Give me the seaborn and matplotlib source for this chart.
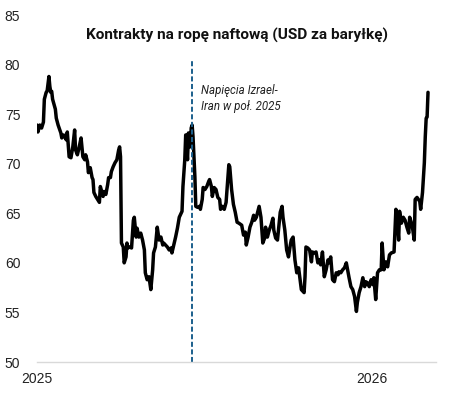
import pandas as pd
import numpy as np
import matplotlib
matplotlib.use("Agg")
import matplotlib.pyplot as plt
import seaborn as sns

# ---- data (days since 2025-01-01, price in USD/bbl) ----
days = [0, 1, 3, 5, 7, 8, 10, 11, 13, 14, 15, 16, 17, 20, 21, 23, 26, 27, 29, 32,
        33, 35, 37, 39, 41, 42, 44, 46, 48, 50, 52, 53, 55, 56, 58, 60, 61, 62, 64, 66,
        68, 69, 72, 73, 75, 77, 78, 80, 81, 83, 85, 87, 89, 90, 91, 92, 94, 95, 97, 98,
        99, 101, 103, 105, 106, 108, 109, 111, 113, 115, 117, 118, 120, 122, 124, 126, 127, 129, 131, 133,
        135, 137, 138, 140, 142, 144, 146, 147, 149, 151, 153, 155, 158, 159, 161, 162, 164, 165, 167, 168,
        169, 170, 172, 173, 175, 177, 178, 180, 181, 183, 185, 187, 188, 190, 191, 193, 195, 197, 199, 200,
        202, 204, 206, 207, 209, 210, 212, 214, 216, 218, 220, 223, 225, 227, 228, 230, 232, 234, 236, 237,
        239, 242, 244, 246, 248, 249, 251, 253, 255, 257, 258, 260, 262, 265, 267, 268, 270, 272, 274, 276,
        277, 279, 281, 283, 285, 287, 288, 291, 292, 293, 295, 297, 299, 300, 302, 304, 306, 308, 309, 311,
        313, 315, 317, 318, 320, 322, 324, 326, 328, 329, 331, 333, 335, 337, 339, 340, 342, 344, 346, 348,
        349, 351, 353, 355, 357, 358, 360, 362, 364, 366, 367, 369, 371, 373, 375, 376, 378, 380, 382, 384,
        386, 389, 391, 393, 394, 395, 397, 399, 401, 403, 405, 406, 408, 409, 411, 412, 414, 417, 418, 420,
        422, 423, 424, 425, 426]
prices = [73.9, 73.2, 73.9, 73.6, 74.2, 76.5, 77.2, 77.3, 78.8, 77.8, 77.2, 77.3, 76.5, 75.5, 74.6, 73.9, 73.1, 72.6, 72.9, 72.4,
          73.2, 70.7, 70.6, 71.7, 73.4, 71.4, 70.9, 71.7, 72.6, 70.7, 70.4, 70.9, 70.2, 69.1, 69.6, 68.6, 68.4, 67.1, 66.7, 66.4,
          66.1, 67.7, 66.7, 67.2, 66.9, 67.9, 68.6, 68.6, 69.2, 69.7, 70.1, 70.4, 71.4, 71.7, 70.7, 62.0, 61.6, 60.0, 60.6, 62.0,
          61.5, 61.6, 61.5, 64.3, 64.6, 62.6, 63.5, 62.6, 63.0, 62.3, 61.3, 59.0, 58.3, 58.6, 57.3, 59.3, 61.0, 61.6, 63.6, 62.3,
          62.6, 61.8, 62.0, 61.8, 61.6, 61.3, 61.5, 61.0, 61.8, 62.6, 63.5, 64.6, 65.2, 67.7, 70.4, 72.9, 70.4, 73.1, 71.7, 73.6,
          73.9, 72.7, 68.7, 65.7, 65.6, 65.7, 65.4, 66.4, 67.6, 67.4, 67.7, 68.2, 68.4, 67.7, 66.7, 67.6, 67.4, 66.6, 66.4, 65.4,
          65.7, 65.4, 66.1, 67.4, 69.9, 69.7, 67.4, 65.9, 65.1, 64.1, 64.0, 63.8, 62.8, 63.1, 61.8, 62.6, 63.6, 64.1, 64.8, 64.3,
          64.6, 65.7, 64.6, 62.0, 62.5, 63.6, 62.6, 63.3, 63.8, 64.5, 63.3, 62.5, 62.3, 65.1, 65.7, 64.6, 63.3, 61.3, 60.6, 61.8,
          62.3, 62.6, 60.3, 59.0, 59.5, 58.0, 57.3, 57.0, 58.6, 61.6, 61.5, 61.3, 60.1, 61.1, 61.0, 61.1, 60.0, 60.3, 59.8, 61.1,
          58.6, 59.3, 60.3, 60.0, 60.6, 58.3, 58.1, 59.0, 58.8, 59.1, 59.0, 59.3, 59.5, 60.0, 59.0, 58.5, 57.6, 57.3, 56.6, 55.1,
          56.0, 57.0, 57.6, 58.5, 57.6, 58.1, 58.0, 57.6, 58.3, 57.8, 58.5, 56.3, 59.0, 59.3, 59.3, 62.0, 59.3, 60.1, 59.6, 60.8,
          61.0, 61.1, 65.4, 63.6, 62.3, 65.2, 64.0, 64.6, 64.3, 63.6, 63.0, 64.6, 64.0, 63.6, 62.3, 66.4, 66.6, 66.2, 65.4, 67.1,
          70.1, 72.7, 74.6, 74.7, 77.2]

title = "Kontrakty na ropę naftową (USD za baryłkę)"
event_date = "2025-06-19"
event_label = "Napięcia Izrael-\nIran w poł. 2025"
y_ticks = [50, 55, 60, 65, 70, 75, 80, 85]
x_tick_dates = ["2025-01-01", "2026-01-01"]
x_tick_labels = ["2025", "2026"]

base = pd.Timestamp("2025-01-01")
df = pd.DataFrame({"date": base + pd.to_timedelta(days, unit="D"), "price": prices})

sns.set_theme(style="white")
plt.rcParams["font.family"] = ["Liberation Sans", "DejaVu Sans"]

fig = plt.figure(figsize=(4.51, 3.98), dpi=100)
ax = fig.add_axes([37 / 451, 1 - 362 / 398, (436 - 37) / 451, (362 - 15) / 398])

sns.lineplot(data=df, x="date", y="price", ax=ax, color="black", linewidth=2.5)

ax.axvline(pd.Timestamp(event_date), ymin=0, ymax=(362 - 60) / (362 - 15),
           color="#1b5f8c", linestyle=(0, (2.6, 1.3)), linewidth=1.4)
ax.text(pd.Timestamp(event_date) + pd.Timedelta(days=10), 78.0, event_label,
        fontsize=8.3, style="italic", color="#222222", va="top", ha="left",
        family=["Roboto", "DejaVu Sans"], linespacing=1.3)

ax.text(0.5, 0.942, title, transform=ax.transAxes, ha="center", va="center",
        fontsize=11.1, fontweight="bold", color="#111111", family=["Roboto", "DejaVu Sans"])

ax.set_ylim(50, 85)
ax.set_yticks(y_ticks)
ax.set_xlim(base, base + pd.Timedelta(days=434.7))
ax.set_xticks([pd.Timestamp(d) for d in x_tick_dates])
ax.set_xticklabels(x_tick_labels)
ax.set_xlabel("")
ax.set_ylabel("")

for s in ["top", "right", "left"]:
    ax.spines[s].set_visible(False)
ax.spines["bottom"].set_color("#d9d9d9")
ax.spines["bottom"].set_linewidth(1.0)
ax.tick_params(axis="y", length=0, pad=12, labelsize=10, labelcolor="#222222")
ax.tick_params(axis="x", length=3, width=1, color="#d9d9d9", direction="out", pad=4,
               labelsize=10, labelcolor="#222222")
ax.grid(False)

fig.savefig("out.png", dpi=100, facecolor="white")
